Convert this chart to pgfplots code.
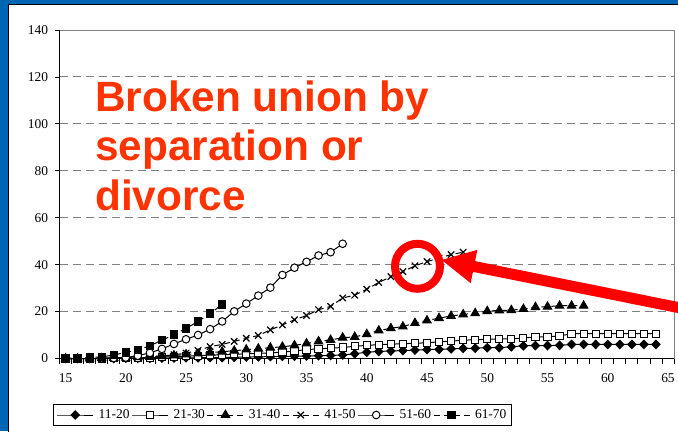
\documentclass[border=0pt]{standalone}
\usepackage{fontspec}
\setmainfont{Liberation Serif}
\newfontfamily\arialfont{Liberation Sans}
\usepackage{pgfplots}
\pgfplotsset{compat=1.18}
\definecolor{slideblue}{RGB}{0,101,179}
\definecolor{titlered}{RGB}{255,51,0}
\definecolor{gridgray}{RGB}{128,128,128}
\begin{document}
\begin{tikzpicture}[x=1bp,y=1bp]
\useasboundingbox (0,0) rectangle (678,431);
\clip (0,0) rectangle (678,431);
\fill[slideblue] (0,0) rectangle (678,431);
\filldraw[fill=white, draw=black, line width=1.2bp] (8.5,-10) rectangle (700,426.5);
\begin{axis}[
  scale only axis, width=614.5bp, height=328.5bp,
  at={(59.5bp,72.5bp)}, anchor=south west,
  xmin=14.5, xmax=65.5, ymin=0, ymax=140,
  clip=false,
  axis line style={draw=none},
  xtick={14.5,15.5,...,65.5}, xticklabels={},
  extra x ticks={15,20,...,65},
  extra x tick style={major tick length=0pt, xticklabel style={yshift=-12bp}},
  ytick={0,20,...,140},
  xtick pos=left, ytick pos=left,
  tick align=outside,
  major tick length=5bp,
  tick style={black, line width=0.8bp},
  ymajorgrids,
  major grid style={gridgray, dash pattern=on 8bp off 5bp, line width=0.9bp},
  tick label style={font=\fontsize{13.5}{15}\selectfont, /pgf/number format/assume math mode=true},
  yticklabel style={xshift=-3bp},
  every axis plot/.append style={black, line width=1bp},
  legend columns=6,
  legend style={at={(0.363,-0.172)}, anchor=center, draw=black, line width=0.7bp,
    font=\fontsize{13.5}{15}\selectfont, inner sep=3bp,
    /tikz/every odd column/.append style={column sep=3bp}},
  legend image code/.code={\draw[mark repeat=2,mark phase=2] plot coordinates {(0bp,0bp) (18bp,0bp) (36bp,0bp)};},
]
% 11-20
\addplot[solid, mark=diamond*, mark size=4.2bp, mark options={solid, fill=black, xscale=1.3}] coordinates {
(15,0)(16,0)(17,0)(18,0)(19,0)(20,0.1)(21,0.1)(22,0.1)(23,0.2)(24,0.2)(25,0.3)(26,0.3)(27,0.4)(28,0.4)(29,0.5)(30,0.6)(31,0.7)(32,0.8)(33,0.9)(34,1.0)(35,1.1)(36,1.2)(37,1.3)(38,1.5)(39,2.0)(40,2.7)(41,3.0)(42,3.2)(43,3.4)(44,3.6)(45,3.8)(46,3.9)(47,4.1)(48,4.3)(49,4.4)(50,4.6)(51,4.6)(52,5.0)(53,5.4)(54,5.5)(55,5.5)(56,5.6)(57,6.0)(58,6.0)(59,6.0)(60,6.0)(61,6.0)(62,6.0)(63,6.0)(64,6.0)};
% 21-30
\addplot[solid, mark=square*, mark size=3.6bp, mark options={solid, fill=white}] coordinates {
(15,0)(16,0)(17,0)(18,0)(19,0.1)(20,0.2)(21,0.3)(22,0.4)(23,0.6)(24,0.8)(25,1.0)(26,1.2)(27,1.4)(28,1.6)(29,1.8)(30,2.0)(31,2.2)(32,2.4)(33,2.7)(34,3.2)(35,3.8)(36,4.1)(37,4.4)(38,4.7)(39,5.2)(40,5.6)(41,5.9)(42,6.1)(43,6.3)(44,6.5)(45,6.7)(46,7.1)(47,7.4)(48,7.8)(49,8.0)(50,8.2)(51,8.3)(52,8.4)(53,8.7)(54,9.2)(55,9.3)(56,9.6)(57,10.6)(58,10.6)(59,10.6)(60,10.6)(61,10.6)(62,10.6)(63,10.6)(64,10.6)};
% 31-40
\addplot[dash pattern=on 6bp off 4bp, mark=triangle*, mark size=4.8bp, mark options={solid, fill=black}] coordinates {
(15,0)(16,0)(17,0)(18,0.1)(19,0.2)(20,0.3)(21,0.5)(22,0.7)(23,1.0)(24,1.3)(25,1.7)(26,2.1)(27,2.5)(28,2.9)(29,3.3)(30,3.8)(31,4.2)(32,4.6)(33,5.0)(34,5.6)(35,6.4)(36,7.3)(37,7.9)(38,8.9)(39,9.2)(40,10.4)(41,11.9)(42,12.9)(43,13.6)(44,15.1)(45,16.2)(46,17.2)(47,18.1)(48,18.8)(49,19.3)(50,20.2)(51,20.5)(52,20.6)(53,21.1)(54,21.9)(55,22.1)(56,22.5)(57,22.5)(58,22.5)};
% 41-50
\addplot[dash pattern=on 6bp off 4bp, mark=x, mark size=4.5bp, mark options={solid, line width=1.2bp}] coordinates {
(15,0)(16,0)(17,0.1)(18,0.1)(19,0.2)(20,0.3)(21,0.5)(22,0.8)(23,1.1)(24,1.6)(25,2.3)(26,3.4)(27,5.1)(28,6.0)(29,7.3)(30,8.6)(31,9.8)(32,12.2)(33,14.3)(34,16.5)(35,18.3)(36,20.8)(37,22.2)(38,25.8)(39,27.0)(40,29.5)(41,32.4)(42,34.9)(43,37.0)(44,39.5)(45,41.3)(46,42.8)(47,44.3)(48,45.3)};
% 51-60
\addplot[solid, mark=*, mark size=3.8bp, mark options={solid, fill=white}] coordinates {
(15,0)(16,0)(17,0)(18,0.1)(19,0.2)(20,0.4)(21,1.2)(22,2.4)(23,4.1)(24,6.2)(25,8.2)(26,10.0)(27,12.5)(28,15.8)(29,20.1)(30,23.4)(31,26.8)(32,30.2)(33,35.6)(34,38.7)(35,41.2)(36,43.9)(37,45.3)(38,48.9)};
% 61-70
\addplot[dash pattern=on 6bp off 4bp, mark=square*, mark size=3.6bp, mark options={solid, fill=black}] coordinates {
(15,0.1)(16,0.2)(17,0.4)(18,0.7)(19,1.5)(20,2.6)(21,3.6)(22,5.4)(23,7.8)(24,10.2)(25,12.8)(26,15.8)(27,19.2)(28,23.0)};
\legend{11-20,21-30,31-40,41-50,51-60,61-70}
\draw[gridgray, line width=0.9bp] (rel axis cs:0,1) -- (rel axis cs:1,1) -- (rel axis cs:1,0);
\draw[black, line width=1bp] (rel axis cs:0,1) -- (rel axis cs:0,0) -- (rel axis cs:1,0);
\end{axis}
\node[anchor=base west, inner sep=0, text=titlered, font=\arialfont\bfseries\fontsize{42.5}{50}\selectfont] at (95,320) {Broken union by};
\node[anchor=base west, inner sep=0, text=titlered, font=\arialfont\bfseries\fontsize{42.5}{50}\selectfont] at (95,271) {separation or};
\node[anchor=base west, inner sep=0, text=titlered, font=\arialfont\bfseries\fontsize{42.5}{50}\selectfont] at (95,221) {divorce};
\draw[red, line width=8bp] (417.5,164.7) circle (22.5);
\draw[red, line width=11bp] (471.1,165.1) -- (690,121.1);
\fill[red] (441.7,171) -- (470.65,147.84) -- (477.35,181.16) -- cycle;
\end{tikzpicture}
\end{document}
